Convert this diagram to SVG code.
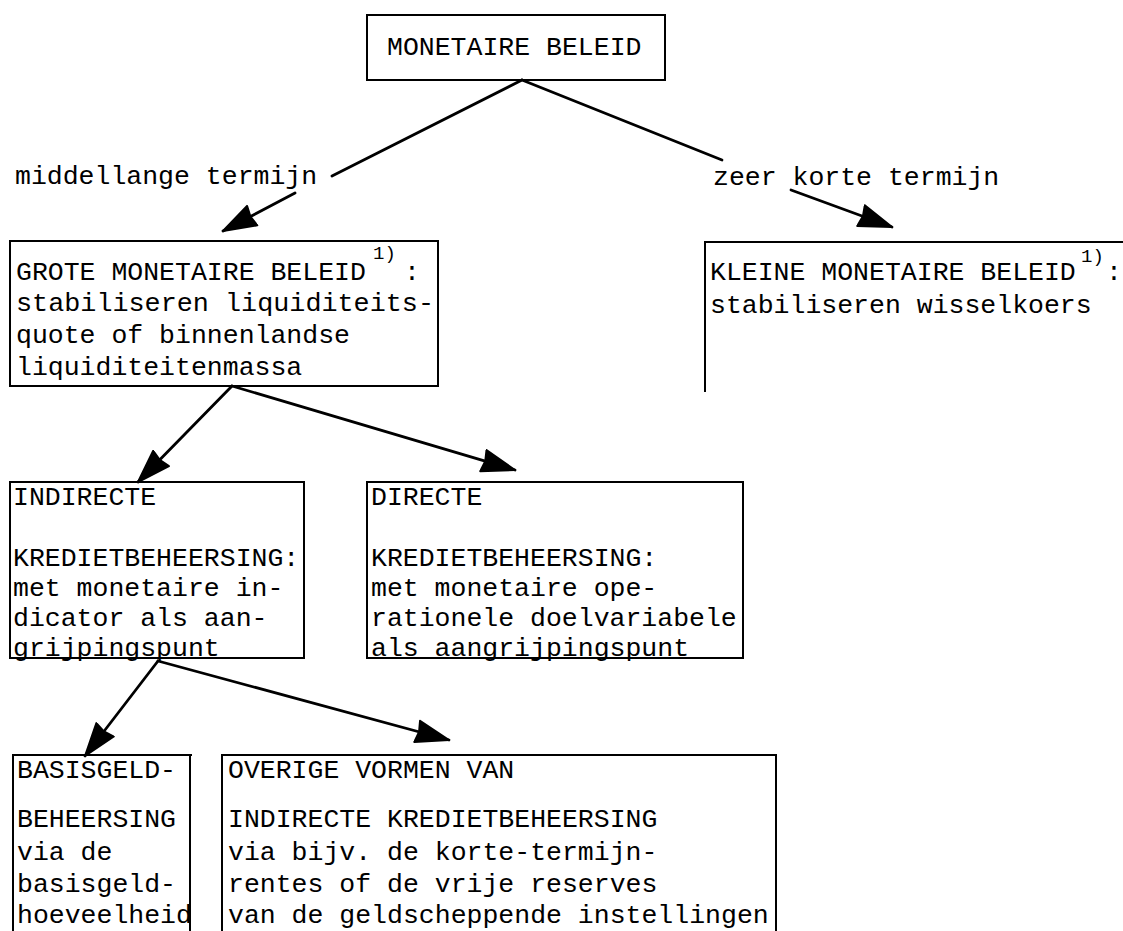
<svg xmlns="http://www.w3.org/2000/svg" width="1123" height="931" viewBox="0 0 1123 931">
<style>
  .t { font-family: "Liberation Mono", "DejaVu Sans Mono", monospace; font-size: 26.5px; fill: #000; }
  .sup { font-family: "Liberation Mono", "DejaVu Sans Mono", monospace; font-size: 19px; fill: #000; }
  .box { fill: none; stroke: #000; stroke-width: 2; }
  .edge { fill: none; stroke: #000; stroke-width: 2.8; stroke-linecap: round; }
</style>
<defs>
  <marker id="arr" markerUnits="userSpaceOnUse" markerWidth="38" markerHeight="28" refX="34" refY="14" orient="auto">
    <path d="M1,3 L34,14 L1,25 L3,14 z" fill="#000" stroke="#000" stroke-width="2" stroke-linejoin="round"/>
  </marker>
</defs>
<rect width="1123" height="931" fill="#fff"/>

<g id="connectors">
  <line class="edge" x1="522" y1="80" x2="332" y2="176"/>
  <line class="edge" x1="295" y1="193" x2="223" y2="231" marker-end="url(#arr)"/>
  <line class="edge" x1="522" y1="80" x2="722" y2="160"/>
  <line class="edge" x1="791" y1="190" x2="892" y2="227" marker-end="url(#arr)"/>
  <line class="edge" x1="232" y1="386" x2="138" y2="482" marker-end="url(#arr)"/>
  <line class="edge" x1="232" y1="386" x2="515" y2="470" marker-end="url(#arr)"/>
  <line class="edge" x1="158" y1="661" x2="85" y2="756" marker-end="url(#arr)"/>
  <line class="edge" x1="158" y1="661" x2="449" y2="740" marker-end="url(#arr)"/>
</g>

<g id="labels">
  <text class="t" x="15" y="184">middellange termijn</text>
  <text class="t" x="713" y="185">zeer korte termijn</text>
</g>

<g id="node-monetaire-beleid">
  <rect class="box" x="367" y="15" width="298" height="65"/>
  <text class="t" x="387" y="55">MONETAIRE BELEID</text>
</g>

<g id="node-grote">
  <rect class="box" x="10" y="241" width="428" height="145"/>
  <text class="t" x="16" y="280">GROTE MONETAIRE BELEID</text>
  <text class="sup" x="373" y="259">1)</text>
  <text class="t" x="404" y="280">:</text>
  <text class="t" x="16" y="311" textLength="418" lengthAdjust="spacingAndGlyphs">stabiliseren liquiditeits-</text>
  <text class="t" x="16" y="343">quote of binnenlandse</text>
  <text class="t" x="16" y="375">liquiditeitenmassa</text>
</g>

<g id="node-kleine">
  <path class="box" d="M1123,242 H705 V392"/>
  <text class="t" x="710" y="280">KLEINE MONETAIRE BELEID</text>
  <text class="sup" x="1081" y="262">1)</text>
  <text class="t" x="1106" y="280">:</text>
  <text class="t" x="710" y="313">stabiliseren wisselkoers</text>
</g>

<g id="node-indirecte">
  <rect class="box" x="10" y="482" width="294" height="176"/>
  <text class="t" x="13" y="505">INDIRECTE</text>
  <text class="t" x="13" y="566">KREDIETBEHEERSING:</text>
  <text class="t" x="13" y="596">met monetaire in-</text>
  <text class="t" x="13" y="626">dicator als aan-</text>
  <text class="t" x="13" y="656">grijpingspunt</text>
</g>

<g id="node-directe">
  <rect class="box" x="367" y="482" width="376" height="176"/>
  <text class="t" x="371" y="505">DIRECTE</text>
  <text class="t" x="371" y="566">KREDIETBEHEERSING:</text>
  <text class="t" x="371" y="596">met monetaire ope-</text>
  <text class="t" x="371" y="626">rationele doelvariabele</text>
  <text class="t" x="371" y="656">als aangrijpingspunt</text>
</g>

<g id="node-basisgeld">
  <path class="box" d="M13,935 V755 H192 M190,755 V935"/>
  <text class="t" x="17" y="778">BASISGELD-</text>
  <text class="t" x="17" y="827">BEHEERSING</text>
  <text class="t" x="17" y="860">via de</text>
  <text class="t" x="17" y="892">basisgeld-</text>
  <text class="t" x="17" y="923">hoeveelheid</text>
</g>

<g id="node-overige">
  <path class="box" d="M222,935 V755 H776 V935"/>
  <text class="t" x="228" y="778">OVERIGE VORMEN VAN</text>
  <text class="t" x="228" y="827">INDIRECTE KREDIETBEHEERSING</text>
  <text class="t" x="228" y="860">via bijv. de korte-termijn-</text>
  <text class="t" x="228" y="892">rentes of de vrije reserves</text>
  <text class="t" x="228" y="923">van de geldscheppende instellingen</text>
</g>
</svg>
